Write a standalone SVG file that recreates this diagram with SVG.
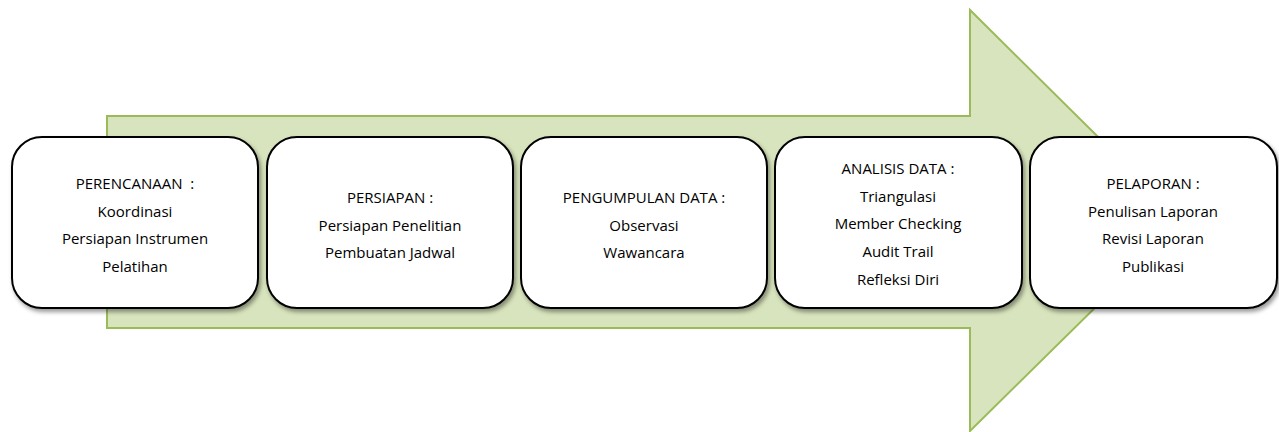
<svg xmlns="http://www.w3.org/2000/svg" width="1279" height="432" viewBox="0 0 1279 432">
<style>
.box{fill:#ffffff;stroke:#000000;stroke-width:2;filter:url(#sh)}
.t{font-family:"Open Sans","Liberation Sans",sans-serif;font-size:15px;fill:#000;text-anchor:middle}
</style>
<defs>
<filter id="sh" x="-10%" y="-10%" width="130%" height="130%">
<feDropShadow dx="2" dy="3" stdDeviation="2" flood-color="#000" flood-opacity="0.4"/>
</filter>
</defs>
<rect width="1279" height="432" fill="#ffffff"/>
<g id="arrow">
<polygon points="107,116 970,116 970,10 1183,221 970,431 970,328 107,328" fill="#d8e4bd" stroke="#9bbb59" stroke-width="2"/>
</g>
<g id="node1">
<rect class="box" x="12" y="137" width="246" height="171" rx="30"/>
<text class="t" x="135" y="189" xml:space="preserve">PERENCANAAN  :</text>
<text class="t" x="135" y="217">Koordinasi</text>
<text class="t" x="135" y="244">Persiapan Instrumen</text>
<text class="t" x="135" y="272">Pelatihan</text>
</g>
<g id="node2">
<rect class="box" x="267" y="137" width="246" height="171" rx="30"/>
<text class="t" x="390" y="203">PERSIAPAN :</text>
<text class="t" x="390" y="231">Persiapan Penelitian</text>
<text class="t" x="390" y="258">Pembuatan Jadwal</text>
</g>
<g id="node3">
<rect class="box" x="521" y="137" width="246" height="171" rx="30"/>
<text class="t" x="644" y="203">PENGUMPULAN DATA :</text>
<text class="t" x="644" y="231">Observasi</text>
<text class="t" x="644" y="258">Wawancara</text>
</g>
<g id="node4">
<rect class="box" x="775" y="137" width="247" height="171" rx="30"/>
<text class="t" x="898" y="174">ANALISIS DATA :</text>
<text class="t" x="898" y="202">Triangulasi</text>
<text class="t" x="898" y="229">Member Checking</text>
<text class="t" x="898" y="257">Audit Trail</text>
<text class="t" x="898" y="285">Refleksi Diri</text>
</g>
<g id="node5">
<rect class="box" x="1030" y="137" width="247" height="171" rx="30"/>
<text class="t" x="1153" y="189">PELAPORAN :</text>
<text class="t" x="1153" y="217">Penulisan Laporan</text>
<text class="t" x="1153" y="244">Revisi Laporan</text>
<text class="t" x="1153" y="272">Publikasi</text>
</g>
</svg>
